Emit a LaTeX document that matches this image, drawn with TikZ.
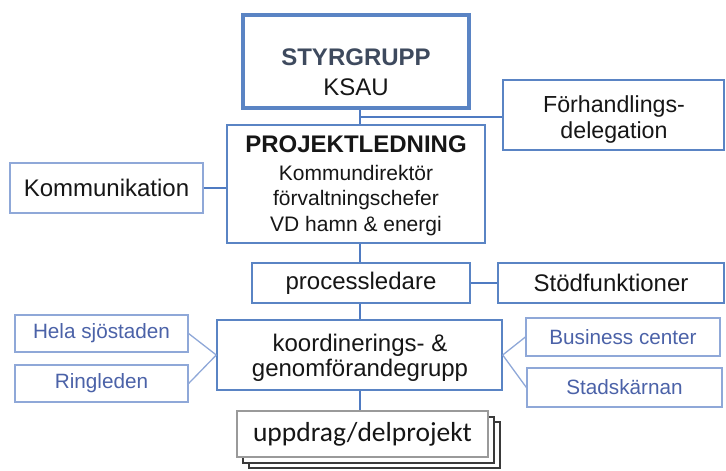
\documentclass[tikz,border=0pt]{standalone}
\usepackage{fontspec}
\setmainfont{Liberation Sans}
\newfontfamily\calib{Carlito}
\definecolor{boxblue}{HTML}{5A84C4}
\definecolor{lineblue}{HTML}{4F7BC2}
\definecolor{lightblue}{HTML}{8FA8D8}
\definecolor{txtblue}{HTML}{4B62A8}
\definecolor{slate}{HTML}{3E4A5E}
\definecolor{txt}{HTML}{161616}
\definecolor{stackdark}{HTML}{3A3A3A}
\definecolor{stackgray}{HTML}{9A9A9A}
\begin{document}
\begin{tikzpicture}[x=1pt,y=-1pt,
  box/.style={draw=boxblue, line width=1.4pt, rectangle, inner sep=0pt, align=center, text=txt, fill=white,
    font=\fontsize{24}{29}\selectfont},
  lbox/.style={box, draw=lightblue, line width=1.2pt},
  sbox/.style={lbox, text=txtblue, font=\fontsize{20.7}{24}\selectfont},
  line/.style={anchor=base, inner sep=0pt, text=txt, font=\fontsize{24}{29}\selectfont},
  subline/.style={line, font=\fontsize{21}{24}\selectfont},
  conn/.style={draw=lineblue, line width=2pt},
  lconn/.style={draw=lightblue, line width=1.3pt},
  stackbox/.style={draw=stackdark, line width=1.3pt, fill=white}]
\useasboundingbox (0,0) rectangle (726,471);
\coordinate (t) at (360,0);

% STYRGRUPP
\node[box, line width=3.6pt, minimum width=226pt, minimum height=93pt] (sty) at (356,61.5) {};
\node[line, text=slate, font=\fontsize{24}{29}\selectfont\bfseries] (sty1) at (356,65) {STYRGRUPP};
\node[line] (sty2) at (356,95) {KSAU};

% PROJEKTLEDNING
\node[box, line width=2.6pt, minimum width=258pt, minimum height=118pt] (proj) at (356,184) {};
\node[line, font=\fontsize{24}{29}\selectfont\bfseries] (proj1) at (356,152) {PROJEKTLEDNING};
\node[subline] (proj2) at (356,180) {Kommundirektör};
\node[subline] (proj3) at (356,205) {förvaltningschefer};
\node[subline] (proj4) at (356,231) {VD hamn \& energi};

\node[lbox, minimum width=193pt, minimum height=50pt] (komm) at (106.5,188) {Kommunikation};

% Förhandlingsdelegation
\node[box, minimum width=221pt, minimum height=70pt] (forh) at (613.5,115) {};
\node[line, font=\fontsize{23.2}{29}\selectfont] (forh1) at (614,112) {Förhandlings-};
\node[line, font=\fontsize{23.2}{29}\selectfont] (forh2) at (614,138) {delegation};

\node[box, minimum width=218pt, minimum height=40pt] (proc) at (361,283) {processledare};
\node[box, minimum width=226pt, minimum height=40pt] (stod) at (611,283) {Stödfunktioner};

% koordinerings- & genomförandegrupp
\node[box, minimum width=285pt, minimum height=70pt] (koord) at (359.5,355) {};
\node[line] (koord1) at (360,351) {koordinerings- \&};
\node[line] (koord2) at (360,376) {genomförandegrupp};

\node[sbox, minimum width=173pt, minimum height=37pt] (hela) at (101.5,333.5) {Hela sjöstaden};
\node[sbox, minimum width=173pt, minimum height=37pt] (ring) at (101.5,383.5) {Ringleden};
\node[sbox, minimum width=194pt, minimum height=38pt] (bus) at (623,337) {Business center};
\node[sbox, minimum width=195pt, minimum height=39pt] (stad) at (624.5,387.5) {Stadskärnan};

% uppdrag/delprojekt (stack)
\draw[stackbox] (249,422) rectangle (500,468);
\draw[stackbox] (243,417) rectangle (494,463);
\node[draw=stackgray, line width=1.4pt, fill=white, inner sep=0pt, minimum width=251pt, minimum height=46pt,
  text=txt, font=\calib\fontsize{27.5}{30}\selectfont] (upp) at (362.5,434) {uppdrag/delprojekt};

\draw[conn] (sty.south -| t) -- (proj.north -| t);
\coordinate (j1) at (360,117);
\draw[conn] (j1) -- (j1 -| forh.west);
\draw[conn] (proj.south -| t) -- (proc.north -| t);
\draw[conn] (proc.south -| t) -- (koord.north -| t);
\draw[conn] (koord.south -| t) -- (upp.north -| t);
\draw[conn] (komm.east) -- (komm.east -| proj.west);
\draw[conn] (proc.east) -- (stod.west);
\draw[lconn] (hela.east) -- (koord.west);
\draw[lconn] (ring.east) -- (koord.west);
\draw[lconn] (koord.east) -- (bus.west);
\draw[lconn] (koord.east) -- (stad.west);
\end{tikzpicture}
\end{document}
